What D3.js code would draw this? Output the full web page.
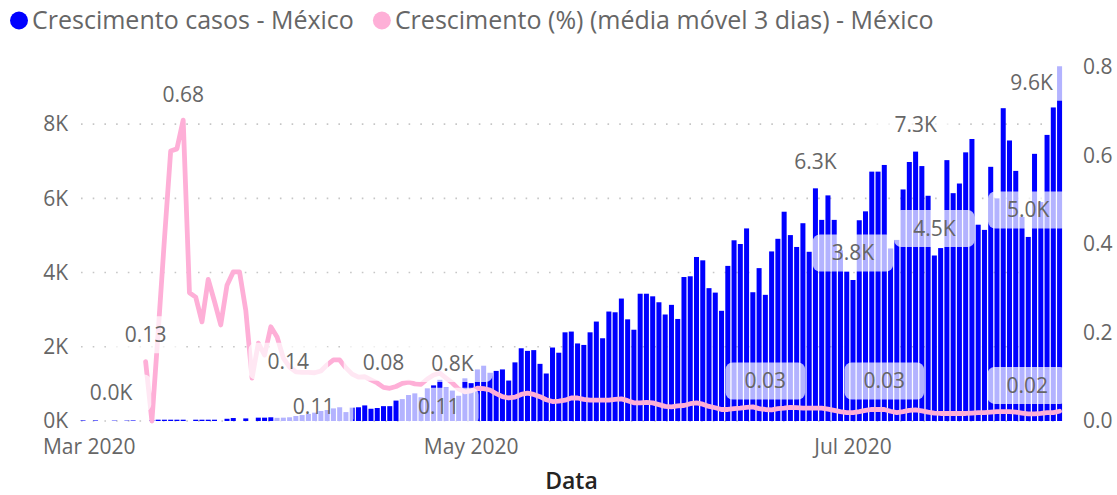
<!DOCTYPE html>
<html><head><meta charset="utf-8">
<script src="https://cdn.jsdelivr.net/npm/d3@7"></script>
<style>
body{margin:0;background:#fff}
svg{display:block}
</style>
</head><body>
<svg id="c" width="1117" height="495"></svg>
<script>
// ---------- DATA ----------
const startDate = "2020-02-29";
const seriesNames = ["Crescimento casos - México", "Crescimento (%) (média móvel 3 dias) - México"];
const axisTitle = "Data";
const cases = [
  15,0,15,0,0,10,0,10,15,0,
  0,20,35,35,35,35,35,0,35,35,
  35,35,0,60,80,0,70,0,90,90,
  100,85,90,100,135,160,190,225,270,296,
  340,370,240,360,370,420,330,350,400,400,
  550,590,700,745,640,880,960,1110,900,820,
  680,1150,1020,1390,1490,1300,1350,1390,1090,1580,
  1960,1890,1910,1540,1280,1980,1840,2390,2410,2090,
  2050,2390,2680,2230,2950,2930,3300,2740,2460,3430,
  3430,3360,3200,2870,3130,2750,3880,3900,4420,4330,
  3580,3460,2970,4180,4870,4770,5190,3470,4120,3400,
  4570,4910,5640,5010,4690,5330,4560,6270,5420,6080,
  5420,4600,4030,3800,5410,5650,6720,6720,6900,4650,
  4880,6240,6980,7260,6870,6070,4460,4660,7030,6140,
  6400,7240,7600,5290,5150,6850,6000,8430,7560,6740,
  5500,4960,7200,5900,7710,8450,9560
];
const growth = [
  null,null,null,null,null,null,null,null,null,null,
  0.134,0.0,0.2,0.41,0.61,0.615,0.68,0.29,0.28,0.224,
  0.32,0.27,0.217,0.307,0.337,0.337,0.25,0.097,0.176,0.149,
  0.213,0.19,0.142,0.122,0.111,0.11,0.11,0.109,0.113,0.127,
  0.138,0.138,0.12,0.106,0.099,0.1,0.093,0.086,0.076,0.074,
  0.078,0.085,0.088,0.084,0.083,0.095,0.104,0.108,0.097,0.086,
  0.072,0.066,0.068,0.074,0.073,0.07,0.062,0.055,0.052,0.054,
  0.06,0.063,0.06,0.055,0.048,0.044,0.045,0.047,0.052,0.052,
  0.049,0.047,0.047,0.047,0.047,0.049,0.05,0.046,0.041,0.041,
  0.042,0.041,0.037,0.033,0.032,0.034,0.035,0.039,0.041,0.038,
  0.033,0.03,0.026,0.026,0.028,0.029,0.031,0.032,0.028,0.026,
  0.025,0.028,0.029,0.031,0.03,0.029,0.029,0.029,0.029,0.027,
  0.024,0.021,0.019,0.019,0.021,0.024,0.026,0.026,0.026,0.022,
  0.019,0.021,0.024,0.025,0.023,0.02,0.018,0.017,0.017,0.017,
  0.017,0.017,0.018,0.019,0.019,0.02,0.021,0.021,0.021,0.02,
  0.018,0.016,0.016,0.017,0.019,0.019,0.022
];
const xTickDates = ["2020-03-01", "2020-05-01", "2020-07-01"];
const leftTicks = [0, 2000, 4000, 6000, 8000];
const rightTicks = [0, 0.2, 0.4, 0.6, 0.8];
const barLabelIdx = [4, 59, 117, 123, 133, 136, 151, 156];
const lineLabelIdx = [10, 16, 32, 37, 48, 57, 109, 128, 151];

// ---------- STYLE ----------
const FONT = "'Segoe UI','Open Sans',sans-serif";
const BLUE = "#0000FF", PINK = "#FEAFD7", GRAY = "#666666";
const barLabelOff = {4:[3,-28],59:[0,-27],117:[0,-27],123:[0,-27],133:[0,-27],136:[0,-27],151:[0,-27],156:[-28,16]};
const lineLabelOff = {10:[0,-27],16:[0,-25],32:[5,3],37:[-1,34],48:[0,-25],57:[-1,33],109:[0,-28.5],128:[0,-28.5],151:[-1,-28.5]};

const parse = d3.utcParse("%Y-%m-%d");
const d0 = parse(startDate);
const dates = cases.map((_, i) => d3.utcDay.offset(d0, i));

const svg = d3.select("#c");
const X0 = 80, X1 = 1063, Y0 = 421, Y1 = 67;

const x = d3.scaleBand().domain(dates).range([79.9, 1062.7]).paddingInner(0.2).paddingOuter(0.1);
const bw = x.bandwidth();
const cx = i => x(dates[i]) + bw / 2;
const yL = d3.scaleLinear().domain([0, 9540]).range([Y0, Y1]);
const yR = d3.scaleLinear().domain([0, 0.8]).range([Y0, Y1]);

svg.append("defs").append("clipPath").attr("id", "plotclip")
  .append("rect").attr("x", X0).attr("y", 0).attr("width", X1 - X0).attr("height", 440);

// gridlines
svg.append("g").selectAll("line").data(leftTicks).join("line")
  .attr("x1", X0 + 1).attr("x2", X1).attr("y1", d => yL(d)).attr("y2", d => yL(d))
  .attr("stroke", "#c6c6c6").attr("stroke-width", 1.6).attr("stroke-dasharray", "1.6,10.1");

// bars
svg.append("g").selectAll("rect").data(cases).join("rect")
  .attr("x", (d, i) => x(dates[i])).attr("width", bw)
  .attr("y", d => yL(d)).attr("height", d => Y0 - yL(d))
  .attr("fill", BLUE);

// line
const line = d3.line().defined(d => d != null).x((d, i) => cx(i)).y(d => yR(d));
svg.append("path").datum(growth).attr("d", line)
  .attr("fill", "none").attr("stroke", PINK).attr("stroke-width", 4.8)
  .attr("stroke-linejoin", "round").attr("stroke-linecap", "round");

// data labels with translucent boxes
const lab = svg.append("g").attr("clip-path", "url(#plotclip)");
const fmtK = v => (v / 1000).toFixed(1) + "K";
const fmtP = v => v.toFixed(2);
const labels = [];
barLabelIdx.forEach(i => labels.push({x: cx(i) + barLabelOff[i][0], y: yL(cases[i]) + barLabelOff[i][1], t: fmtK(cases[i])}));
lineLabelIdx.forEach(i => labels.push({x: cx(i) + lineLabelOff[i][0], y: yR(growth[i]) + lineLabelOff[i][1], t: fmtP(growth[i])}));
labels.forEach(L => {
  const g = lab.append("g");
  const r = g.append("rect");
  const t = g.append("text").attr("x", L.x).attr("y", L.y).attr("dy", "0.35em")
    .attr("text-anchor", "middle").attr("font-family", FONT).attr("font-size", 21)
    .attr("fill", GRAY).text(L.t);
  const w = t.node().getComputedTextLength() + 38, h = 37;
  r.attr("x", L.x - w / 2).attr("y", L.y - h / 2).attr("width", w).attr("height", h)
    .attr("rx", 7).attr("fill", "#fff").attr("fill-opacity", 0.7);
});

// axes
const styleAxis = g => {
  g.select(".domain").remove();
  g.attr("font-family", FONT).attr("font-size", 21);
  g.selectAll("text").attr("fill", GRAY);
};
svg.append("g").attr("transform", `translate(0,${Y0})`)
  .call(d3.axisBottom(x).tickValues(xTickDates.map(parse)).tickFormat(d3.utcFormat("%b %Y")).tickSize(0).tickPadding(18.5))
  .call(styleAxis);
svg.append("g").attr("transform", `translate(${X0},0)`)
  .call(d3.axisLeft(yL).tickValues(leftTicks).tickFormat(d => (d / 1000) + "K").tickSize(0).tickPadding(12))
  .call(styleAxis);
svg.append("g").attr("transform", `translate(${X1},0)`)
  .call(d3.axisRight(yR).tickValues(rightTicks).tickFormat(d3.format(".1f")).tickSize(0).tickPadding(20))
  .call(styleAxis);

// axis title
svg.append("text").attr("x", (X0 + X1) / 2).attr("y", 488.5).attr("text-anchor", "middle")
  .attr("font-family", FONT).attr("font-size", 23).attr("font-weight", 600)
  .attr("fill", "#252423").text(axisTitle);

// legend
const leg = svg.append("g");
let lx = 19;
[BLUE, PINK].forEach((c, k) => {
  leg.append("circle").attr("cx", lx).attr("cy", 20.5).attr("r", 9).attr("fill", c);
  const t = leg.append("text").attr("x", lx + 13).attr("y", 29)
    .attr("font-family", FONT).attr("font-size", 25).attr("fill", GRAY).text(seriesNames[k]);
  lx = lx + 13 + t.node().getComputedTextLength() + 28;
});
</script>
</body></html>
